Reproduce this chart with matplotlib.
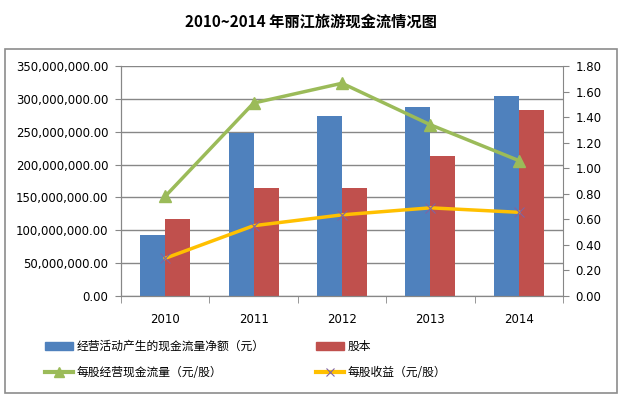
import numpy as np
import matplotlib.pyplot as plt
from matplotlib.lines import Line2D
from matplotlib.patches import Patch, Rectangle
from matplotlib.ticker import FuncFormatter

plt.rcParams['font.family'] = ['DejaVu Sans', 'Noto Sans CJK SC']

years = ['2010', '2011', '2012', '2013', '2014']
op_cash = [92.8e6, 248.5e6, 274e6, 287.6e6, 304e6]      # 经营活动产生的现金流量净额（元）
share_cap = [117e6, 164.8e6, 164.8e6, 213e6, 283e6]     # 股本
cash_per_share = [0.78, 1.51, 1.665, 1.34, 1.06]        # 每股经营现金流量
eps = [0.295, 0.55, 0.635, 0.69, 0.655]                 # 每股收益

blue, red, green, gold = '#4f81bd', '#c0504d', '#9bbb59', '#ffc000'
grid_c = '#878787'
cjk = ['Noto Sans CJK SC', 'DejaVu Sans']

fig = plt.figure(figsize=(6.22, 3.97), dpi=100)
W, H = 622, 397
ax = fig.add_axes([121 / W, 1 - 296 / H, (563 - 121) / W, (296 - 66) / H])
ax2 = ax.twinx()

x = np.arange(len(years))
bw = 0.283
ax.bar(x - bw / 2, op_cash, bw, color=blue, zorder=2)
ax.bar(x + bw / 2, share_cap, bw, color=red, zorder=2)
ax.set_xlim(-0.5, len(years) - 0.5)
ax.set_ylim(0, 350e6)
ax.set_yticks(np.arange(0, 350e6 + 1, 50e6))
ax.yaxis.set_major_formatter(FuncFormatter(lambda v, p: f'{v:,.2f}'))
ax.grid(axis='y', color=grid_c, lw=1, zorder=0)
ax.set_axisbelow(True)
ax.set_xticks(x)
ax.set_xticklabels(years)
ax.set_xticks(np.arange(-0.5, len(years)), minor=True)
ax.tick_params(axis='x', which='major', length=0, pad=12, labelsize=8.5)
ax.tick_params(axis='x', which='minor', length=5, color=grid_c, direction='out')
ax.tick_params(axis='y', length=4, color=grid_c, labelsize=8.5, pad=5)

ax2.plot(x, cash_per_share, color=green, lw=2.5, marker='^', ms=8, zorder=3)
ax2.plot(x, eps, color=gold, lw=2.5, marker='x', ms=7, mec='#8064a2', mew=0.8, zorder=3)
ax2.set_ylim(0, 1.8)
ax2.set_yticks(np.arange(0, 1.81, 0.2))
ax2.yaxis.set_major_formatter(FuncFormatter(lambda v, p: f'{v:.2f}'))
ax2.tick_params(axis='y', length=4, color=grid_c, labelsize=8.5, pad=5)

for a in (ax, ax2):
    a.spines['top'].set_visible(False)
    for s in ('left', 'right', 'bottom'):
        a.spines[s].set_color(grid_c)
ax.spines['right'].set_visible(False)

# outer frame
fig.patches.append(Rectangle((5 / W, 1 - 393 / H), 612 / W, 344 / H, transform=fig.transFigure,
                             fill=False, ec='#8c8c8c', lw=1.2))

fig.text(311 / W, 1 - 22 / H, '2010~2014 年丽江旅游现金流情况图', ha='center', va='center',
         fontsize=11, fontweight='bold', family=cjk)

handles1 = [Patch(color=blue), Patch(color=red)]
labels1 = ['经营活动产生的现金流量净额（元）', '股本']
handles2 = [Line2D([], [], color=green, lw=3, marker='^', ms=7),
            Line2D([], [], color=gold, lw=3, marker='x', ms=6, mec='#8064a2', mew=0.8)]
labels2 = ['每股经营现金流量（元/股）', '每股收益（元/股）']
for i, (h, l) in enumerate(zip(handles1, labels1)):
    fig.text([77, 348][i] / W, 1 - 346 / H, l, va='center', fontsize=8.5, family=cjk)
    fig.patches.append(Rectangle(([45, 316][i] / W, 1 - 350 / H), 28 / W, 8 / H,
                                 transform=fig.transFigure, color=h.get_facecolor()))
for i, (h, l) in enumerate(zip(handles2, labels2)):
    x0 = [45, 316][i]
    fig.text([77, 348][i] / W, 1 - 372 / H, l, va='center', fontsize=8.5, family=cjk)
    fig.add_artist(Line2D([x0 / W, (x0 + 28) / W], [1 - 372 / H] * 2, transform=fig.transFigure,
                          color=h.get_color(), lw=3))
    fig.add_artist(Line2D([(x0 + 14) / W], [1 - 372 / H], transform=fig.transFigure,
                          color=h.get_color(), marker=h.get_marker(), ms=h.get_markersize(),
                          mec=h.get_markeredgecolor(), mew=h.get_markeredgewidth(), lw=0))

fig.savefig('out.png', dpi=100)
